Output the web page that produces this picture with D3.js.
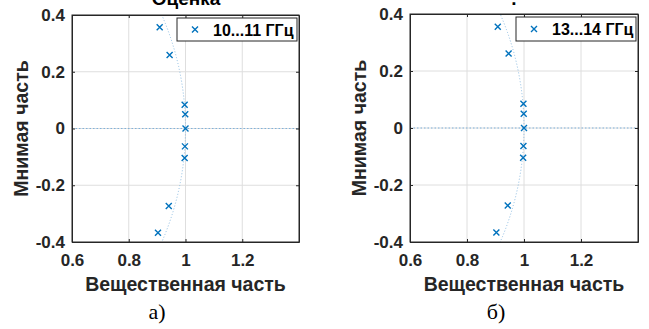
<!DOCTYPE html>
<html>
<head>
<meta charset="utf-8">
<script src="https://cdn.jsdelivr.net/npm/d3@7"></script>
<style>
  body { margin: 0; background: #fff; }
  text { font-family: "Liberation Sans", Arial, sans-serif; }
</style>
</head>
<body>
<div id="chart"></div>
<script>
// data
var realA = [0.909, 0.944, 0.997, 0.999, 1.0, 0.998, 0.997, 0.941, 0.903];
var imagA = [0.357, 0.259, 0.084, 0.050, 0.0, -0.063, -0.104, -0.273, -0.367];
var realB = [0.908, 0.946, 0.998, 0.999, 1.0, 0.998, 0.997, 0.943, 0.903];
var imagB = [0.355, 0.261, 0.085, 0.050, 0.0, -0.063, -0.104, -0.272, -0.367];

var xTicks = [0.6, 0.8, 1, 1.2];
var yTicks = [-0.4, -0.2, 0, 0.2, 0.4];
var legendA = '10...11 ГГц';
var legendB = '13...14 ГГц';
var unitRadius = 1;

var blue = '#0072BD';
var axisColor = '#262626';

var width = 649, height = 329;

var svg = d3.select('#chart').append('svg')
    .attr('width', width)
    .attr('height', height);

// panel geometry
var panels = [
    { left: 72, right: 299, top: 15, bottom: 242, re: realA, im: imagA, legend: legendA,
      title: 'Оценка', titleX: 186, caption: 'а)', captionX: 157, legendBox: [177, 18, 120, 23] },
    { left: 410, right: 638, top: 14, bottom: 242, re: realB, im: imagB, legend: legendB,
      title: '.', titleX: 514, caption: 'б)', captionX: 496, legendBox: [516, 17, 120, 24] }
];

panels.forEach(function (p, i) {

    var xScale = d3.scaleLinear().domain([0.6, 1.4]).range([p.left, p.right]);
    var yScale = d3.scaleLinear().domain([-0.4, 0.4]).range([p.bottom, p.top]);

    var g = svg.append('g');

    // clip to the plot box
    g.append('clipPath').attr('id', 'clip' + i)
        .append('rect')
        .attr('x', p.left).attr('y', p.top)
        .attr('width', p.right - p.left).attr('height', p.bottom - p.top);

    // grid
    g.selectAll('.gx').data(xTicks.slice(1)).enter().append('line')
        .attr('x1', d => xScale(d)).attr('x2', d => xScale(d))
        .attr('y1', p.top).attr('y2', p.bottom)
        .attr('stroke', '#dedede').attr('stroke-width', 1);
    g.selectAll('.gy').data(yTicks.slice(1, -1)).enter().append('line')
        .attr('y1', d => yScale(d)).attr('y2', d => yScale(d))
        .attr('x1', p.left).attr('x2', p.right)
        .attr('stroke', '#dedede').attr('stroke-width', 1);

    var plot = g.append('g').attr('clip-path', 'url(#clip' + i + ')');

    // zero line
    plot.append('line')
        .attr('x1', p.left).attr('x2', p.right)
        .attr('y1', yScale(0)).attr('y2', yScale(0))
        .attr('stroke', '#7fb2dc').attr('stroke-width', 1)
        .attr('stroke-dasharray', '1.5,2');

    // unit circle
    plot.append('ellipse')
        .attr('cx', xScale(0)).attr('cy', yScale(0))
        .attr('rx', xScale(unitRadius) - xScale(0))
        .attr('ry', yScale(0) - yScale(unitRadius))
        .attr('fill', 'none')
        .attr('stroke', '#8dbde3').attr('stroke-width', 1)
        .attr('stroke-dasharray', '1,2');

    // axes with inward ticks
    var fmt = d => String(d);
    var xAxis = d3.axisBottom(xScale).tickValues(xTicks).tickSizeInner(-3).tickSizeOuter(0).tickPadding(12)
        .tickFormat(fmt);
    var yAxis = d3.axisLeft(yScale).tickValues(yTicks).tickSizeInner(-3).tickSizeOuter(0).tickPadding(7)
        .tickFormat(fmt);

    g.append('g').attr('transform', `translate(0, ${p.bottom})`).call(xAxis);
    g.append('g').attr('transform', `translate(${p.left}, 0)`).call(yAxis);
    g.append('g').attr('transform', `translate(0, ${p.top})`)
        .call(d3.axisTop(xScale).tickValues(xTicks).tickSizeInner(-3).tickSizeOuter(0).tickFormat(''));
    g.append('g').attr('transform', `translate(${p.right}, 0)`)
        .call(d3.axisRight(yScale).tickValues(yTicks).tickSizeInner(-3).tickSizeOuter(0).tickFormat(''));

    g.selectAll('.domain').attr('stroke', axisColor);
    g.selectAll('.tick line').attr('stroke', axisColor);
    g.selectAll('.tick text')
        .attr('fill', axisColor)
        .style('font-size', '17px')
        .style('font-weight', 'bold');

    // plot box
    g.append('rect')
        .attr('x', p.left).attr('y', p.top)
        .attr('width', p.right - p.left).attr('height', p.bottom - p.top)
        .attr('fill', 'none').attr('stroke', axisColor).attr('stroke-width', 1);

    // markers
    var pts = p.re.map((r, k) => ({ re: r, im: p.im[k] }));
    var s = 3;
    g.selectAll('.pt').data(pts).enter().append('path')
        .attr('d', d => {
            var x = xScale(d.re), y = yScale(d.im);
            return `M${x - s},${y - s}L${x + s},${y + s}M${x - s},${y + s}L${x + s},${y - s}`;
        })
        .attr('stroke', blue).attr('stroke-width', 1.4).attr('fill', 'none');

    // legend
    var lb = p.legendBox;
    g.append('rect')
        .attr('x', lb[0]).attr('y', lb[1]).attr('width', lb[2]).attr('height', lb[3])
        .attr('fill', '#fff').attr('stroke', axisColor).attr('stroke-width', 1);
    var lx = lb[0] + 18, ly = lb[1] + lb[3] / 2;
    g.append('path')
        .attr('d', `M${lx - s},${ly - s}L${lx + s},${ly + s}M${lx - s},${ly + s}L${lx + s},${ly - s}`)
        .attr('stroke', blue).attr('stroke-width', 1.4);
    g.append('text')
        .attr('x', lb[0] + 36).attr('y', ly + 6)
        .attr('fill', '#000')
        .style('font-size', '16px').style('font-weight', 'bold')
        .text(p.legend);

    // title (cut off at top, as in the original)
    g.append('text')
        .attr('x', p.titleX).attr('y', 5)
        .attr('text-anchor', 'middle')
        .attr('fill', '#000')
        .style('font-size', '19px').style('font-weight', 'bold')
        .text(p.title);

    // axis labels
    g.append('text')
        .attr('x', (p.left + p.right) / 2).attr('y', 291)
        .attr('text-anchor', 'middle')
        .attr('fill', axisColor)
        .style('font-size', '19.5px').style('font-weight', 'bold')
        .text('Вещественная часть');

    g.append('text')
        .attr('transform', `translate(${p.left - 44}, ${(p.top + p.bottom) / 2}) rotate(-90)`)
        .attr('text-anchor', 'middle')
        .attr('fill', axisColor)
        .style('font-size', '19.5px').style('font-weight', 'bold')
        .text('Мнимая часть');

    // caption
    g.append('text')
        .attr('x', p.captionX).attr('y', 319)
        .attr('text-anchor', 'middle')
        .attr('fill', '#000')
        .style('font-family', '"Liberation Serif", "Times New Roman", serif')
        .style('font-size', '22px')
        .text(p.caption);
});
</script>
</body>
</html>
